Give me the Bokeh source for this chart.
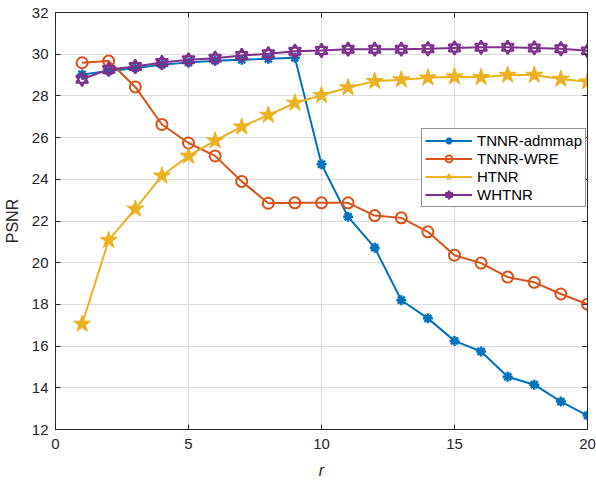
from bokeh.plotting import figure
from bokeh.models import Legend, LegendItem, LinearAxis, FixedTicker, Range1d
from bokeh.embed import file_html
from bokeh.resources import INLINE

r = list(range(1, 21))
tnnr_admmap = [29.03, 29.19, 29.33, 29.50, 29.60, 29.69, 29.73, 29.78, 29.83, 24.72,
               22.20, 20.72, 18.20, 17.33, 16.25, 15.74, 14.53, 14.15, 13.34, 12.67]
tnnr_wre = [29.59, 29.67, 28.43, 26.63, 25.74, 25.12, 23.90, 22.85, 22.87, 22.87,
            22.87, 22.26, 22.15, 21.48, 20.36, 19.98, 19.31, 19.06, 18.50, 18.01]
htnr = [17.06, 21.08, 22.58, 24.17, 25.12, 25.85, 26.52, 27.08, 27.66, 28.03,
        28.40, 28.70, 28.78, 28.87, 28.92, 28.89, 29.00, 29.00, 28.81, 28.68]
whtnr = [28.80, 29.27, 29.41, 29.60, 29.73, 29.81, 29.94, 30.02, 30.14, 30.18,
         30.24, 30.24, 30.24, 30.26, 30.30, 30.33, 30.33, 30.30, 30.26, 30.16]
x_ticks = [0, 5, 10, 15, 20]
y_ticks = [12, 14, 16, 18, 20, 22, 24, 26, 28, 30, 32]

BLUE, RED, YELLOW, PURPLE = "#0072BD", "#D95319", "#EDB120", "#7E2F8E"
TXT = "#262626"
FONT = "Liberation Sans"

p = figure(width=596, height=481, output_backend="svg", toolbar_location=None,
           x_range=Range1d(0, 20), y_range=Range1d(12, 32),
           min_border_left=55, min_border_right=9, min_border_top=12, min_border_bottom=50)
p.background_fill_color = "white"
p.border_fill_color = "white"
p.outline_line_color = TXT
p.outline_line_width = 1

for ax, ticks in ((p.xaxis[0], x_ticks), (p.yaxis[0], y_ticks)):
    ax.ticker = FixedTicker(ticks=ticks)
    ax.major_tick_in = 5
    ax.major_tick_out = 0
    ax.minor_tick_in = 0
    ax.minor_tick_out = 0
    ax.axis_line_color = TXT
    ax.major_tick_line_color = TXT
    ax.major_label_text_font = FONT
    ax.major_label_text_font_size = "15px"
    ax.major_label_text_color = TXT
    ax.axis_label_text_font = FONT
    ax.axis_label_text_font_size = "16px"
    ax.axis_label_text_color = TXT

p.xaxis.axis_label = "r"
p.xaxis.axis_label_text_font_style = "italic"
p.xaxis.major_label_standoff = 9
p.xaxis.axis_label_standoff = 10
p.yaxis.axis_label = "PSNR"
p.yaxis.axis_label_text_font_style = "normal"
p.yaxis.major_label_standoff = 7
p.yaxis.axis_label_standoff = 8

for loc, ticks in (("above", x_ticks), ("right", y_ticks)):
    ax = LinearAxis(ticker=FixedTicker(ticks=ticks), major_tick_in=5, major_tick_out=0,
                    minor_tick_in=0, minor_tick_out=0, axis_line_color=TXT,
                    major_tick_line_color=TXT,
                    major_label_overrides={t: "" for t in ticks},
                    major_label_standoff=0)
    p.add_layout(ax, loc)

p.xgrid.ticker = FixedTicker(ticks=x_ticks)
p.ygrid.ticker = FixedTicker(ticks=y_ticks)
p.xgrid.grid_line_color = "#dcdcdc"
p.ygrid.grid_line_color = "#dcdcdc"

LW = 2
l1 = p.line(r, tnnr_admmap, line_color=BLUE, line_width=LW)
m1 = p.scatter(r, tnnr_admmap, marker="asterisk", size=10, line_color=BLUE, line_width=2.5)

l2 = p.line(r, tnnr_wre, line_color=RED, line_width=LW)
m2 = p.scatter(r, tnnr_wre, marker="circle", size=11, line_color=RED, line_width=2,
               fill_color=None)

l3 = p.line(r, htnr, line_color=YELLOW, line_width=LW)
m3 = p.scatter(r, htnr, marker="star", size=18, line_color=YELLOW, line_width=1,
               fill_color=YELLOW)

l4 = p.line(r, whtnr, line_color=PURPLE, line_width=LW)
m4a = p.scatter(r, whtnr, marker="triangle", size=12, line_color=PURPLE, line_width=2,
                fill_color=None)
m4b = p.scatter(r, whtnr, marker="inverted_triangle", size=12, line_color=PURPLE,
                line_width=2, fill_color=None)

legend = Legend(items=[
    LegendItem(label="TNNR-admmap", renderers=[l1, m1]),
    LegendItem(label="TNNR-WRE", renderers=[l2, m2]),
    LegendItem(label="HTNR", renderers=[l3, m3]),
    LegendItem(label="WHTNR", renderers=[l4, m4a, m4b]),
], location=(366, 222))
legend.border_line_color = TXT
legend.border_line_width = 1
legend.background_fill_color = "white"
legend.background_fill_alpha = 1
legend.label_text_font = FONT
legend.label_text_font_size = "15px"
legend.label_text_color = "black"
legend.glyph_width = 47
legend.glyph_height = 17
legend.label_height = 17
legend.label_standoff = 5
legend.spacing = 1
legend.padding = 3
legend.margin = 0
p.add_layout(legend, "center")

open("out.html", "w").write(file_html(p, INLINE))
